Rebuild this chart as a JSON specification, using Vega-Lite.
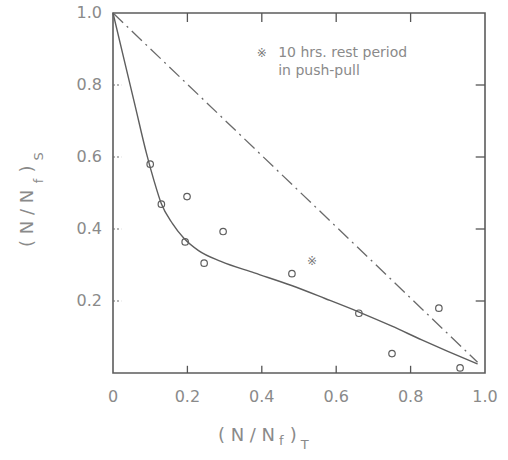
{
  "$schema": "https://vega.github.io/schema/vega-lite/v6.json",
  "width": 372,
  "height": 360,
  "autosize": {"type": "none"},
  "padding": {"left": 113, "top": 13, "right": 23, "bottom": 87},
  "background": "white",
  "config": {
    "view": {"stroke": "#5c5c5c", "strokeWidth": 1.6},
    "font": "DejaVu Sans"
  },
  "datasets": {
    "curve": [
      {"nt": 0.0, "ns": 1.0},
      {"nt": 0.03, "ns": 0.87},
      {"nt": 0.06, "ns": 0.74},
      {"nt": 0.09, "ns": 0.61},
      {"nt": 0.11, "ns": 0.535},
      {"nt": 0.13, "ns": 0.47},
      {"nt": 0.16, "ns": 0.415},
      {"nt": 0.19, "ns": 0.375},
      {"nt": 0.23, "ns": 0.34},
      {"nt": 0.29, "ns": 0.31},
      {"nt": 0.38, "ns": 0.278},
      {"nt": 0.48, "ns": 0.243},
      {"nt": 0.57, "ns": 0.207},
      {"nt": 0.66, "ns": 0.17},
      {"nt": 0.75, "ns": 0.13},
      {"nt": 0.83, "ns": 0.092},
      {"nt": 0.9, "ns": 0.06},
      {"nt": 0.98, "ns": 0.025}
    ],
    "diagonal": [
      {"nt": 0.0, "ns": 1.0},
      {"nt": 0.98, "ns": 0.03}
    ],
    "tests": [
      {"nt": 0.10, "ns": 0.58},
      {"nt": 0.13, "ns": 0.469},
      {"nt": 0.199, "ns": 0.49},
      {"nt": 0.194, "ns": 0.364},
      {"nt": 0.296, "ns": 0.393},
      {"nt": 0.245, "ns": 0.305},
      {"nt": 0.481, "ns": 0.276},
      {"nt": 0.661, "ns": 0.166},
      {"nt": 0.876, "ns": 0.18},
      {"nt": 0.75, "ns": 0.054},
      {"nt": 0.933, "ns": 0.014}
    ],
    "rest": [
      {"nt": 0.535, "ns": 0.31}
    ],
    "ticks": [
      {"v": 0.2}, {"v": 0.4}, {"v": 0.6}, {"v": 0.8}
    ],
    "xlabels": [
      {"v": 0.0, "label": "0"},
      {"v": 0.2, "label": "0.2"},
      {"v": 0.4, "label": "0.4"},
      {"v": 0.6, "label": "0.6"},
      {"v": 0.8, "label": "0.8"},
      {"v": 1.0, "label": "1.0"}
    ],
    "ylabels": [
      {"v": 0.2, "label": "0.2"},
      {"v": 0.4, "label": "0.4"},
      {"v": 0.6, "label": "0.6"},
      {"v": 0.8, "label": "0.8"},
      {"v": 1.0, "label": "1.0"}
    ]
  },
  "layer": [
    {
      "data": {"name": "diagonal"},
      "mark": {"type": "line", "color": "#6a6a6a", "strokeWidth": 1.3, "strokeDash": [14, 5, 2, 5]},
      "encoding": {
        "x": {"field": "nt", "type": "quantitative", "scale": {"domain": [0, 1]}, "axis": null},
        "y": {"field": "ns", "type": "quantitative", "scale": {"domain": [0, 1]}, "axis": null}
      }
    },
    {
      "data": {"name": "ticks"},
      "mark": {"type": "rule", "color": "#555555", "strokeWidth": 1.3},
      "encoding": {
        "x": {"field": "v", "type": "quantitative", "axis": null},
        "y": {"datum": 0, "type": "quantitative", "axis": null},
        "y2": {"datum": 0.02}
      }
    },
    {
      "data": {"name": "ticks"},
      "mark": {"type": "rule", "color": "#555555", "strokeWidth": 1.3},
      "encoding": {
        "x": {"field": "v", "type": "quantitative", "axis": null},
        "y": {"datum": 1, "type": "quantitative", "axis": null},
        "y2": {"datum": 0.975}
      }
    },
    {
      "data": {"name": "ticks"},
      "mark": {"type": "rule", "color": "#6a6a6a", "strokeWidth": 1.1, "strokeDash": [2, 2]},
      "encoding": {
        "y": {"field": "v", "type": "quantitative", "axis": null},
        "x": {"datum": 0, "type": "quantitative", "axis": null},
        "x2": {"datum": 0.022}
      }
    },
    {
      "data": {"name": "ticks"},
      "mark": {"type": "rule", "color": "#555555", "strokeWidth": 1.3},
      "encoding": {
        "y": {"field": "v", "type": "quantitative", "axis": null},
        "x": {"datum": 1, "type": "quantitative", "axis": null},
        "x2": {"datum": 0.975}
      }
    },
    {
      "data": {"name": "xlabels"},
      "mark": {"type": "text", "fontSize": 16, "color": "#8a8a8a", "baseline": "middle", "align": "center", "dy": 24},
      "encoding": {
        "x": {"field": "v", "type": "quantitative", "axis": null},
        "y": {"datum": 0, "type": "quantitative", "axis": null},
        "text": {"field": "label"}
      }
    },
    {
      "data": {"name": "ylabels"},
      "mark": {"type": "text", "fontSize": 16, "color": "#8a8a8a", "baseline": "middle", "align": "right", "dx": -11},
      "encoding": {
        "y": {"field": "v", "type": "quantitative", "axis": null},
        "x": {"datum": 0, "type": "quantitative", "axis": null},
        "text": {"field": "label"}
      }
    },
    {
      "data": {"name": "curve"},
      "mark": {"type": "line", "color": "#5e5e5e", "strokeWidth": 1.4, "interpolate": "monotone"},
      "encoding": {
        "x": {"field": "nt", "type": "quantitative", "axis": null},
        "y": {"field": "ns", "type": "quantitative", "axis": null}
      }
    },
    {
      "data": {"name": "tests"},
      "mark": {"type": "point", "shape": "circle", "filled": false, "color": "#5e5e5e", "size": 42, "strokeWidth": 1.2, "opacity": 1},
      "encoding": {
        "x": {"field": "nt", "type": "quantitative", "axis": null},
        "y": {"field": "ns", "type": "quantitative", "axis": null}
      }
    },
    {
      "data": {"name": "rest"},
      "mark": {"type": "text", "text": "※", "font": "DejaVu Sans", "fontSize": 12, "color": "#7a7a7a"},
      "encoding": {
        "x": {"field": "nt", "type": "quantitative", "axis": null},
        "y": {"field": "ns", "type": "quantitative", "axis": null}
      }
    },
    {
      "data": {"values": [{}]},
      "mark": {"type": "text", "text": "※", "font": "DejaVu Sans", "fontSize": 12, "color": "#7a7a7a"},
      "encoding": {"x": {"datum": 0.40, "type": "quantitative", "axis": null}, "y": {"datum": 0.89, "type": "quantitative", "axis": null}}
    },
    {
      "data": {"values": [{}]},
      "mark": {"type": "text", "text": ["10 hrs. rest period", "in push-pull"], "align": "left", "baseline": "middle",
               "fontSize": 14, "lineHeight": 18, "color": "#8a8a8a"},
      "encoding": {"x": {"datum": 0.444, "type": "quantitative", "axis": null}, "y": {"datum": 0.89, "type": "quantitative", "axis": null}}
    },
    {
      "data": {"values": [{}]},
      "mark": {"type": "text", "text": "( N / N", "align": "left", "baseline": "middle", "fontSize": 18, "color": "#8a8a8a"},
      "encoding": {"x": {"datum": 0.282, "type": "quantitative", "axis": null}, "y": {"datum": -0.175, "type": "quantitative", "axis": null}}
    },
    {
      "data": {"values": [{}]},
      "mark": {"type": "text", "text": "f", "align": "left", "baseline": "middle", "fontSize": 13, "color": "#8a8a8a"},
      "encoding": {"x": {"datum": 0.446, "type": "quantitative", "axis": null}, "y": {"datum": -0.19, "type": "quantitative", "axis": null}}
    },
    {
      "data": {"values": [{}]},
      "mark": {"type": "text", "text": ")", "align": "left", "baseline": "middle", "fontSize": 18, "color": "#8a8a8a"},
      "encoding": {"x": {"datum": 0.475, "type": "quantitative", "axis": null}, "y": {"datum": -0.175, "type": "quantitative", "axis": null}}
    },
    {
      "data": {"values": [{}]},
      "mark": {"type": "text", "text": "T", "align": "left", "baseline": "middle", "fontSize": 13, "color": "#8a8a8a"},
      "encoding": {"x": {"datum": 0.505, "type": "quantitative", "axis": null}, "y": {"datum": -0.2, "type": "quantitative", "axis": null}}
    },
    {
      "data": {"values": [{}]},
      "mark": {"type": "text", "text": "( N / N", "align": "left", "baseline": "middle", "angle": 270, "fontSize": 18, "color": "#8a8a8a"},
      "encoding": {"x": {"datum": -0.228, "type": "quantitative", "axis": null}, "y": {"datum": 0.35, "type": "quantitative", "axis": null}}
    },
    {
      "data": {"values": [{}]},
      "mark": {"type": "text", "text": "f", "align": "left", "baseline": "middle", "angle": 270, "fontSize": 13, "color": "#8a8a8a"},
      "encoding": {"x": {"datum": -0.2, "type": "quantitative", "axis": null}, "y": {"datum": 0.527, "type": "quantitative", "axis": null}}
    },
    {
      "data": {"values": [{}]},
      "mark": {"type": "text", "text": ")", "align": "left", "baseline": "middle", "angle": 270, "fontSize": 18, "color": "#8a8a8a"},
      "encoding": {"x": {"datum": -0.228, "type": "quantitative", "axis": null}, "y": {"datum": 0.557, "type": "quantitative", "axis": null}}
    },
    {
      "data": {"values": [{}]},
      "mark": {"type": "text", "text": "S", "align": "left", "baseline": "middle", "angle": 270, "fontSize": 13, "color": "#8a8a8a"},
      "encoding": {"x": {"datum": -0.198, "type": "quantitative", "axis": null}, "y": {"datum": 0.59, "type": "quantitative", "axis": null}}
    }
  ]
}
